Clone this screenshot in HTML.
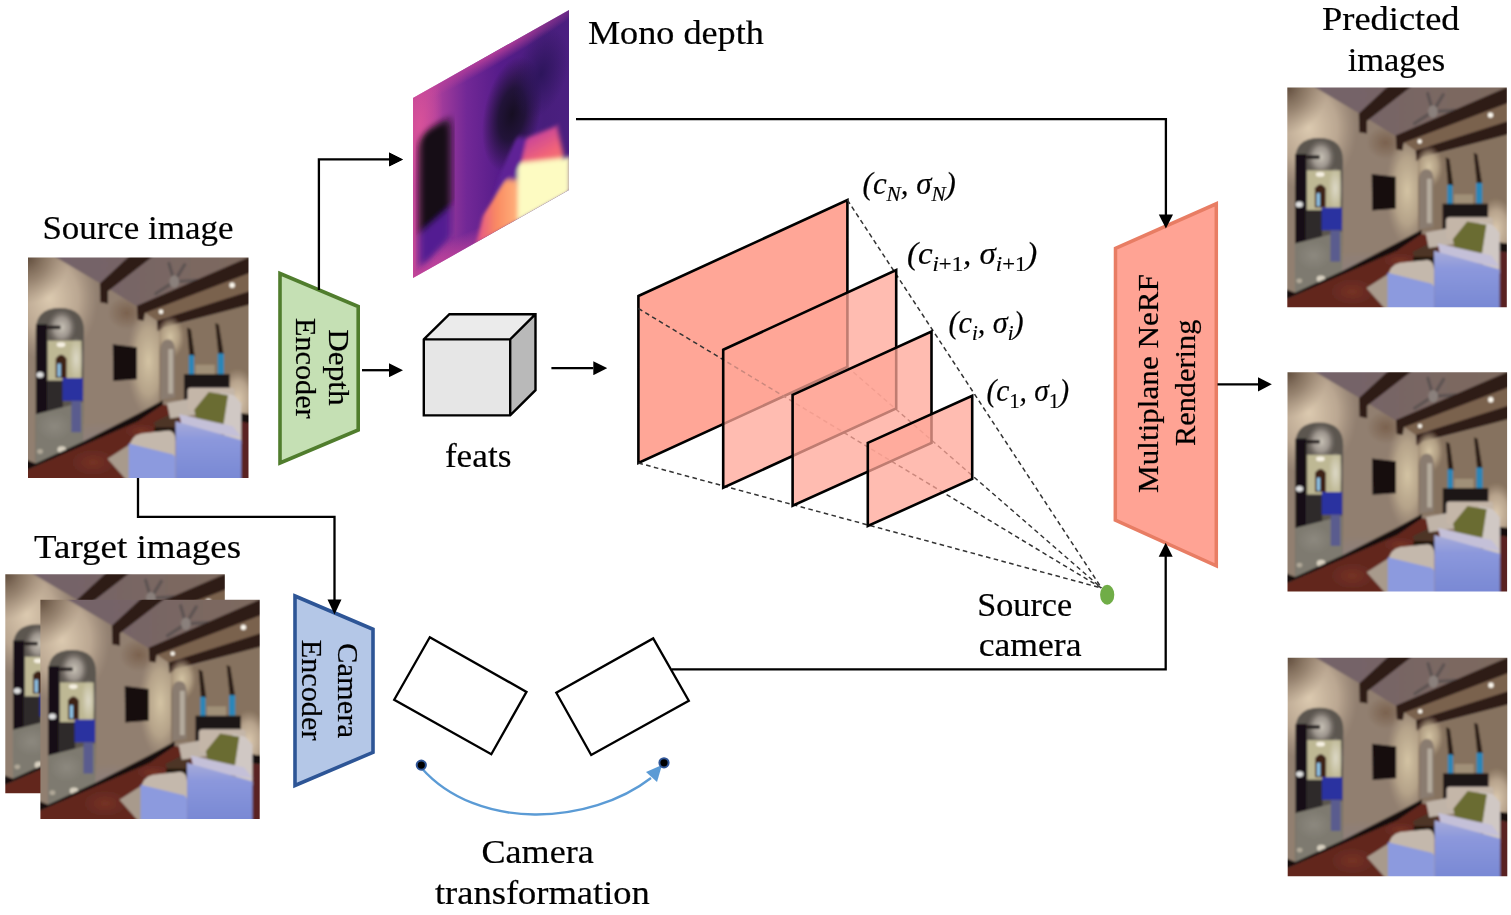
<!DOCTYPE html>
<html><head><meta charset="utf-8">
<style>
html,body{margin:0;padding:0;background:#fff;width:1511px;height:915px;overflow:hidden}
svg{position:absolute;left:0;top:0;display:block;will-change:transform}
text{font-family:"Liberation Serif",serif;fill:#000;stroke:#000;stroke-width:0.2px}
.m{font-style:italic}
</style></head><body>
<svg width="1511" height="915" viewBox="0 0 1511 915">
<defs>
  <marker id="ah" markerWidth="14" markerHeight="14" refX="0" refY="7" orient="auto" markerUnits="userSpaceOnUse"><path d="M0,0 L14,7 L0,14 z" fill="#000"/></marker>
  <filter id="bl" x="-5%" y="-5%" width="110%" height="110%"><feGaussianBlur stdDeviation="5"/></filter>
  
  <linearGradient id="lw" x1="0" y1="0" x2="1" y2="0.3">
    <stop offset="0" stop-color="#cfc2ae"/>
    <stop offset="0.5" stop-color="#d4c8b6"/>
    <stop offset="1" stop-color="#cbbca8"/>
  </linearGradient>
  <linearGradient id="sf" x1="0" y1="0" x2="0" y2="1"><stop offset="0" stop-color="#a8acd8"/><stop offset="0.3" stop-color="#8c98dc"/><stop offset="1" stop-color="#7888d4"/></linearGradient>
  <radialGradient id="tlc"><stop offset="0" stop-color="#5e4a3a" stop-opacity="0.95"/><stop offset="0.5" stop-color="#7a6654" stop-opacity="0.6"/><stop offset="1" stop-color="#8a7664" stop-opacity="0"/></radialGradient>
  <radialGradient id="wl"><stop offset="0" stop-color="#ddd2bc" stop-opacity="0.9"/><stop offset="1" stop-color="#ddd2bc" stop-opacity="0"/></radialGradient>
  <radialGradient id="dome" cx="0.5" cy="0.5"><stop offset="0" stop-color="#cac4b8"/><stop offset="0.55" stop-color="#a8a098" stop-opacity="0.85"/><stop offset="1" stop-color="#807870" stop-opacity="0"/></radialGradient>
  <radialGradient id="mar"><stop offset="0" stop-color="#8e8a80" stop-opacity="0.9"/><stop offset="1" stop-color="#8e8a80" stop-opacity="0"/></radialGradient>
  <radialGradient id="flr"><stop offset="0" stop-color="#7e3628" stop-opacity="0.7"/><stop offset="1" stop-color="#7e3628" stop-opacity="0"/></radialGradient>
  <radialGradient id="wlit"><stop offset="0" stop-color="#dccab0"/><stop offset="0.6" stop-color="#ccb8a0" stop-opacity="0.7"/><stop offset="1" stop-color="#bca892" stop-opacity="0"/></radialGradient>
  <radialGradient id="wlit2"><stop offset="0" stop-color="#d4c4a4"/><stop offset="0.6" stop-color="#c4b294" stop-opacity="0.7"/><stop offset="1" stop-color="#b4a086" stop-opacity="0"/></radialGradient>
  <radialGradient id="wgrey"><stop offset="0" stop-color="#8c8080" stop-opacity="0.8"/><stop offset="1" stop-color="#8c8080" stop-opacity="0"/></radialGradient>
  <radialGradient id="hall"><stop offset="0" stop-color="#e0dccc" stop-opacity="0.9"/><stop offset="1" stop-color="#e0dccc" stop-opacity="0"/></radialGradient>
  <linearGradient id="ceil" x1="0" y1="0" x2="1" y2="0"><stop offset="0" stop-color="#73626a"/><stop offset="1" stop-color="#7e6a5e"/></linearGradient>
  <radialGradient id="wsh"><stop offset="0" stop-color="#785e4a" stop-opacity="0.9"/><stop offset="1" stop-color="#785e4a" stop-opacity="0"/></radialGradient>
  <clipPath id="rc"><rect x="0" y="0" width="915" height="915"/></clipPath>
  <symbol id="room" viewBox="0 0 915 915" preserveAspectRatio="none">
    <g clip-path="url(#rc)"><g filter="url(#bl)">
    <rect x="-20" y="-20" width="960" height="960" fill="#917f70"/>
    <!-- left wall base -->
    <rect x="-20" y="-20" width="580" height="900" fill="#917f70"/>
    <ellipse cx="410" cy="230" rx="80" ry="70" fill="url(#wsh)"/>
    <ellipse cx="90" cy="170" rx="200" ry="260" fill="url(#wlit)"/>
    <ellipse cx="0" cy="0" rx="170" ry="190" fill="url(#tlc)"/>
    <ellipse cx="500" cy="430" rx="90" ry="230" fill="url(#wlit2)"/>
    <ellipse cx="300" cy="760" rx="200" ry="80" fill="url(#wgrey)"/>
    <!-- ceiling -->
    <polygon points="100,-10 925,-10 925,190 557,290 540,265 455,205 300,108" fill="url(#ceil)"/>
    <polygon points="485,228 925,62 925,140 535,262" fill="#7a624e"/>
    <!-- fan -->
    <g stroke="#5e5452" stroke-width="14" stroke-linecap="round">
      <line x1="607" y1="100" x2="650" y2="30"/>
      <line x1="607" y1="100" x2="530" y2="150"/>
      <line x1="607" y1="100" x2="585" y2="25"/>
      <line x1="607" y1="100" x2="700" y2="95"/>
    </g>
    <ellipse cx="607" cy="100" rx="20" ry="26" fill="#8a807c"/>
    <!-- beams -->
    <polygon points="298,108 425,-10 525,-10 332,140 332,192 300,186" fill="#2e1a16"/>
    <polygon points="452,200 925,-5 925,62 485,230 480,262 455,258" fill="#2e1a16"/>
    <polygon points="535,262 925,138 925,195 560,290 553,308 538,304" fill="#2e1a16"/>
    <circle cx="847" cy="115" r="11" fill="#fffaf0"/>
    <circle cx="552" cy="225" r="9" fill="#fffaf0"/>
    <!-- far wall -->
    <polygon points="545,300 925,195 925,650 607,590 545,600" fill="#86725e"/>
    <ellipse cx="870" cy="590" rx="80" ry="130" fill="url(#wlit)"/>
    <ellipse cx="590" cy="330" rx="60" ry="90" fill="url(#wlit2)"/>
    <!-- small arch -->
    <path d="M550,592 L550,392 Q550,340 580,340 Q610,340 610,392 L610,580 z" fill="#8a7c70"/>
    <rect x="582" y="380" width="20" height="185" fill="#b4aa9c"/>
    <!-- vases -->
    <polygon points="660,290 676,298 692,410 670,410" fill="#2a1e18"/>
    <polygon points="777,272 792,278 812,400 790,400" fill="#2a1e18"/>
    <rect x="667" y="405" width="22" height="80" fill="#2a86b8"/>
    <rect x="787" y="398" width="26" height="85" fill="#2a86b8"/>
    <rect x="695" y="445" width="80" height="40" fill="#a09078"/>
    <!-- console -->
    <rect x="647" y="484" width="190" height="118" fill="#1e1418"/>
    <!-- TV -->
    <polygon points="352,360 452,372 452,505 354,512" fill="#140c0e"/>
    <!-- arch doorway -->
    <path d="M32,860 L32,305 Q32,210 132,210 Q232,210 232,305 L228,768 z" fill="#5c5650"/>
    <ellipse cx="140" cy="290" rx="60" ry="75" fill="url(#dome)"/>
    <rect x="80" y="283" width="55" height="14" fill="#1a1618"/>
    <rect x="33" y="277" width="46" height="375" fill="#141012"/>
    <rect x="82" y="345" width="140" height="165" fill="#beb894"/>
    <ellipse cx="200" cy="420" rx="30" ry="90" fill="url(#hall)"/>
    <ellipse cx="137" cy="362" rx="18" ry="10" fill="#f6f0e2"/>
    <path d="M115,500 L115,420 Q138,388 160,420 L160,500 z" fill="#3e2018"/>
    <rect x="122" y="440" width="14" height="55" fill="#90c4e8"/>
    <ellipse cx="50" cy="487" rx="15" ry="12" fill="#e0e0e0"/>
    <rect x="79" y="512" width="66" height="140" fill="#2e2a2a"/>
    <polygon points="32,650 228,600 228,768 32,858" fill="#7e7a70"/>
    <ellipse cx="110" cy="700" rx="70" ry="60" fill="url(#mar)"/>
    <rect x="143" y="500" width="85" height="95" fill="#2c30a0"/>
    <rect x="180" y="595" width="40" height="130" fill="#5a5c8e"/>
    <ellipse cx="140" cy="797" rx="18" ry="14" fill="#d8d0c0"/>
    <ellipse cx="50" cy="805" rx="12" ry="10" fill="#b0a898"/>
    <!-- baseboard + floor -->
    <polygon points="-10,838 32,855 228,765 457,648 560,592 560,612 457,682 228,782 -10,885" fill="#140c0a"/>
    <polygon points="-10,885 228,780 457,680 560,610 640,625 640,925 -10,925" fill="#62281f"/>
    <ellipse cx="270" cy="850" rx="90" ry="55" fill="url(#flr)"/>
    <ellipse cx="470" cy="720" rx="70" ry="30" fill="url(#flr)"/>
    <polygon points="838,640 925,650 925,690 838,675" fill="#140c0a"/>
    <polygon points="870,680 925,690 925,925 870,925" fill="#5a2420"/>
    <!-- rug -->
    <polygon points="330,835 470,745 590,700 612,925 410,925" fill="#a89a8c"/>
    <!-- coffee table -->
    <polygon points="522,685 600,645 625,665 625,700 540,735" fill="#4e3628"/>
    <rect x="525" y="705" width="95" height="55" fill="#24160e"/>
    <!-- chaise seat -->
    <polygon points="577,605 690,582 705,650 590,668" fill="#c0b4a8"/>
    <!-- sofa back -->
    <rect x="662" y="540" width="195" height="95" rx="14" fill="#c4b6a8"/>
    <!-- right arm -->
    <polygon points="800,560 855,572 885,605 885,775 815,745" fill="#d0c8c4"/>
    <!-- green pillow -->
    <polygon points="750,558 830,572 812,690 700,680 690,632" fill="#6a6c32"/>
    <!-- arm cushion -->
    <polygon points="628,650 850,700 885,745 640,712" fill="#c4c0d8"/>
    <!-- front panel -->
    <polygon points="612,680 885,758 885,925 612,925" fill="url(#sf)"/>
    <!-- ottoman -->
    <path d="M420,790 Q425,740 470,730 L585,718 Q612,722 612,760 L612,925 L420,925 z" fill="#c4b8ac"/>
    <polygon points="418,772 602,817 612,830 612,925 418,925" fill="#8c9ade"/>
    </g></g>
  </symbol>

  <filter id="db" x="-10%" y="-10%" width="120%" height="120%"><feGaussianBlur stdDeviation="3.5"/></filter>
  <filter id="db2" x="-20%" y="-20%" width="140%" height="140%"><feGaussianBlur stdDeviation="9"/></filter>
  <filter id="db1" x="-10%" y="-10%" width="120%" height="120%"><feGaussianBlur stdDeviation="2.2"/></filter>
  <radialGradient id="rg_pink"><stop offset="0" stop-color="#c0429a"/><stop offset="1" stop-color="#c0429a" stop-opacity="0"/></radialGradient>
  <radialGradient id="rg_pink2"><stop offset="0" stop-color="#d8529a"/><stop offset="1" stop-color="#d8529a" stop-opacity="0"/></radialGradient>
  <radialGradient id="rg_dark"><stop offset="0" stop-color="#160e22"/><stop offset="0.45" stop-color="#1c1230" stop-opacity="0.9"/><stop offset="1" stop-color="#1c1230" stop-opacity="0"/></radialGradient>
  <radialGradient id="rg_dark2"><stop offset="0" stop-color="#2a1458" stop-opacity="0.9"/><stop offset="1" stop-color="#2a1458" stop-opacity="0"/></radialGradient>
  <clipPath id="dc"><rect x="0" y="0" width="156" height="180"/></clipPath>
  <linearGradient id="dg" x1="0" y1="0" x2="1" y2="0">
    <stop offset="0" stop-color="#cc4a94"/>
    <stop offset="0.18" stop-color="#ae409c"/>
    <stop offset="0.36" stop-color="#722896"/>
    <stop offset="0.55" stop-color="#561c8a"/>
    <stop offset="0.8" stop-color="#481e7c"/>
    <stop offset="1" stop-color="#4c2082"/>
  </linearGradient>
  <linearGradient id="pk" x1="0" y1="0" x2="0" y2="1"><stop offset="0" stop-color="#c8449a"/><stop offset="0.35" stop-color="#f26478"/><stop offset="1" stop-color="#fca66c"/></linearGradient>
  <linearGradient id="og" x1="0" y1="0" x2="1" y2="0">
    <stop offset="0" stop-color="#e2508a"/>
    <stop offset="0.5" stop-color="#fa8a62"/>
    <stop offset="1" stop-color="#ffb07a"/>
  </linearGradient>
</defs>

<!-- photos -->
<use href="#room" x="28" y="257.5" width="220.5" height="220.5"/>
<use href="#room" x="5.3" y="574.2" width="219.5" height="219"/>
<use href="#room" x="40.4" y="599.8" width="219.3" height="219.2"/>
<use href="#room" x="1287.3" y="87.5" width="219.5" height="219.7"/>
<use href="#room" x="1287.5" y="372.2" width="219.6" height="219.2"/>
<use href="#room" x="1287.7" y="657.7" width="219.6" height="218.6"/>


<!-- mono depth -->
<g transform="matrix(1,-0.5635,0,1,413,98)">
 <g clip-path="url(#dc)">
  <rect x="-10" y="-10" width="176" height="200" fill="url(#dg)"/>
  <ellipse cx="78" cy="-2" rx="110" ry="16" fill="url(#rg_pink)"/>
  <ellipse cx="6" cy="30" rx="24" ry="60" fill="url(#rg_pink2)"/>
  <ellipse cx="99" cy="72" rx="30" ry="55" fill="url(#rg_dark)"/>
  <ellipse cx="128" cy="48" rx="28" ry="42" fill="url(#rg_dark2)"/>
  <ellipse cx="30" cy="185" rx="70" ry="22" fill="url(#rg_pink)"/>
  <g filter="url(#db)">
    <path d="M6,55 Q6,40 20,40 L30,40 Q38,40 38,55 L38,145 L6,150 z" fill="#131015"/>
    <path d="M6,140 L38,130 L38,160 L14,172 L6,172 z" fill="#521f92"/>
  </g>
  <g filter="url(#db1)">
    <path d="M104,97 L114,104 L108,128 L104,145 L93,134 L80,146 L86,128 L96,110 z" fill="#5e2296"/>
    <path d="M113.7,104 L144,109 L150.5,142 L156,178 L156,182 L103,182 L103,150 L108,128 z" fill="url(#pk)"/>
    <path d="M70,157 L93,134 L104,141 L104,182 L63,182 z" fill="url(#og)"/>
    <path d="M107,125 L153,146 L157,147 L157,182 L104.6,182 L104.6,130 z" fill="#fdfbc2"/>
  </g>
 </g>
</g>

<!-- labels -->
<text x="42.4" y="239.2" font-size="34" textLength="191" lengthAdjust="spacingAndGlyphs">Source image</text>
<text x="34.1" y="557.7" font-size="34" textLength="207" lengthAdjust="spacingAndGlyphs">Target images</text>
<text x="587.9" y="43.8" font-size="34" textLength="176" lengthAdjust="spacingAndGlyphs">Mono depth</text>
<text x="444.9" y="466.7" font-size="34" textLength="66.5" lengthAdjust="spacingAndGlyphs">feats</text>
<text x="977.2" y="616.4" font-size="34" textLength="95" lengthAdjust="spacingAndGlyphs">Source</text>
<text x="978.7" y="655.8" font-size="34" textLength="102.8" lengthAdjust="spacingAndGlyphs">camera</text>
<text x="481.5" y="863.1" font-size="34" textLength="112.2" lengthAdjust="spacingAndGlyphs">Camera</text>
<text x="434.9" y="904" font-size="34" textLength="215" lengthAdjust="spacingAndGlyphs">transformation</text>
<text x="1322" y="29.8" font-size="34" textLength="137.6" lengthAdjust="spacingAndGlyphs">Predicted</text>
<text x="1347.7" y="70.9" font-size="34" textLength="97.6" lengthAdjust="spacingAndGlyphs">images</text>

<!-- encoders -->
<polygon points="280,273.5 358.2,306.5 358.2,430 280,463" fill="#c5e0b4" stroke="#507d2d" stroke-width="3.6"/>
<polygon points="295,596 373,629.3 373,752.3 295,785.5" fill="#b4c7e7" stroke="#2d5596" stroke-width="3.6"/>
<polygon points="1115.5,248.3 1216.3,203.8 1216.3,565.8 1115.3,520" fill="#ffa394" stroke="#e87d64" stroke-width="3.5"/>

<!-- arrows / lines -->
<g stroke="#000" stroke-width="2.3" fill="none">
  <polyline points="318.9,290 318.9,159.4 389,159.4" marker-end="url(#ah)"/>
  <line x1="362" y1="370.2" x2="389" y2="370.2" marker-end="url(#ah)"/>
  <line x1="551.4" y1="368.2" x2="593.3" y2="368.2" marker-end="url(#ah)"/>
  <polyline points="576,119.1 1165.9,119.1 1165.9,215"/>
  <polyline points="138,478 138,516.9 334.5,516.9 334.5,600"/>
  <line x1="1217.5" y1="384.3" x2="1258.5" y2="384.3"/>
  <polyline points="671.5,669.4 1165.7,669.4 1165.7,556"/>
</g>
<path d="M389,152.4 L403,159.4 L389,166.4z" fill="#000"/>
<path d="M1158.8,214.5 L1173,214.5 L1165.9,228.5z" fill="#000"/>
<path d="M327.5,599.5 L341.5,599.5 L334.5,614.5z" fill="#000"/>
<path d="M1258,377.2 L1271.8,384.3 L1258,391.4z" fill="#000"/>
<path d="M1158.7,556.8 L1172.7,556.8 L1165.7,542.8z" fill="#000"/>

<!-- cube -->
<polygon points="423.8,339.4 449.4,314.2 535.5,314.2 510.2,339.4" fill="#ebebeb"/>
<polygon points="510.2,339.4 535.5,314.2 535.5,390.2 510.2,415.4" fill="#b9b9b9"/>
<rect x="423.8" y="339.4" width="86.4" height="76" fill="#e6e6e6"/>
<path d="M423.8,339.4 L449.4,314.2 L535.5,314.2 L535.5,390.2 L510.2,415.4 L423.8,415.4 Z M423.8,339.4 L510.2,339.4 L535.5,314.2 M510.2,339.4 L510.2,415.4" fill="none" stroke="#000" stroke-width="2.4" stroke-linejoin="miter" stroke-miterlimit="3"/>

<!-- camera rects -->
<g stroke="#000" stroke-width="2.3" fill="none">
  <polygon points="429.8,637.2 526.5,691.9 491.3,754.3 394.2,699.7"/>
  <polygon points="653.2,638.4 688.8,700.8 591.2,755 556.3,692.8"/>
</g>


<!-- frustum planes -->
<g id="planes">
  <polygon points="638.4,296 847.4,200 847.4,367 638.4,463" fill="#ffa697" stroke="#000" stroke-width="2.6" stroke-linejoin="miter"/>
  <g stroke="#333" stroke-width="1.5" stroke-dasharray="4.6,3.4" fill="none">
    <line x1="638.4" y1="308.5" x2="1101.5" y2="588"/>
    <line x1="638.4" y1="463" x2="1101.5" y2="588"/>
    <line x1="847.4" y1="200" x2="1101.5" y2="588"/>
    <line x1="847.4" y1="367" x2="1101.5" y2="588"/>
  </g>
  <polygon points="723.2,349.8 896.2,270 896.2,408.5 723.2,487.8" fill="#ffa697" fill-opacity="0.75" stroke="#000" stroke-width="2.6"/>
  <polygon points="792.6,394.9 931.5,331.5 931.5,442.9 792.6,505.8" fill="#ffa697" fill-opacity="0.75" stroke="#000" stroke-width="2.6"/>
  <polygon points="867.8,442.9 972.2,395.7 972.2,479 867.8,526" fill="#ffa697" fill-opacity="0.75" stroke="#000" stroke-width="2.6"/>
</g>
<ellipse cx="1107.2" cy="594.7" rx="7.1" ry="10" fill="#70ad47"/>

<!-- math labels -->
<g class="m" font-size="32" style="stroke:none">
  <text x="862.6" y="193.5" textLength="93.3" lengthAdjust="spacingAndGlyphs">(c<tspan font-size="22" dy="7">N</tspan><tspan dy="-7">, σ</tspan><tspan font-size="22" dy="7">N</tspan><tspan dy="-7">)</tspan></text>
  <text x="906.9" y="263.5" textLength="130.4" lengthAdjust="spacingAndGlyphs">(c<tspan font-size="22" dy="7">i</tspan><tspan font-size="22" font-style="normal">+1</tspan><tspan dy="-7">, σ</tspan><tspan font-size="22" dy="7">i</tspan><tspan font-size="22" font-style="normal">+1</tspan><tspan dy="-7">)</tspan></text>
  <text x="948.4" y="333" textLength="75.3" lengthAdjust="spacingAndGlyphs">(c<tspan font-size="22" dy="7">i</tspan><tspan dy="-7">, σ</tspan><tspan font-size="22" dy="7">i</tspan><tspan dy="-7">)</tspan></text>
  <text x="986.4" y="400.5" textLength="82.6" lengthAdjust="spacingAndGlyphs">(c<tspan font-size="22" dy="7" font-style="normal">1</tspan><tspan dy="-7">, σ</tspan><tspan font-size="22" dy="7" font-style="normal">1</tspan><tspan dy="-7">)</tspan></text>
</g>

<!-- rotated encoder labels -->
<text transform="translate(329.1,329.3) rotate(90)" font-size="29" textLength="76.3" lengthAdjust="spacingAndGlyphs">Depth</text>
<text transform="translate(295.5,317.9) rotate(90)" font-size="29" textLength="100.8" lengthAdjust="spacingAndGlyphs">Encoder</text>
<text transform="translate(337.5,643) rotate(90)" font-size="29" textLength="95" lengthAdjust="spacingAndGlyphs">Camera</text>
<text transform="translate(301.5,639.7) rotate(90)" font-size="29" textLength="100.8" lengthAdjust="spacingAndGlyphs">Encoder</text>
<text transform="translate(1158.4,492.9) rotate(-90)" font-size="29" textLength="218.8" lengthAdjust="spacingAndGlyphs">Multiplane NeRF</text>
<text transform="translate(1195.3,446) rotate(-90)" font-size="29" textLength="126.4" lengthAdjust="spacingAndGlyphs">Rendering</text>

<!-- camera transformation arc -->
<path d="M421.5,768 C477.4,831.6 590.5,824.9 651,778" fill="none" stroke="#5b9bd5" stroke-width="2.4"/>
<path d="M646,772 L662,765 L657,782 z" fill="#5b9bd5"/>
<circle cx="421.3" cy="765.1" r="4.6" fill="#000" stroke="#2f5597" stroke-width="2"/>
<circle cx="664" cy="762.8" r="4.6" fill="#000" stroke="#2f5597" stroke-width="2"/>

</svg>
</body></html>
